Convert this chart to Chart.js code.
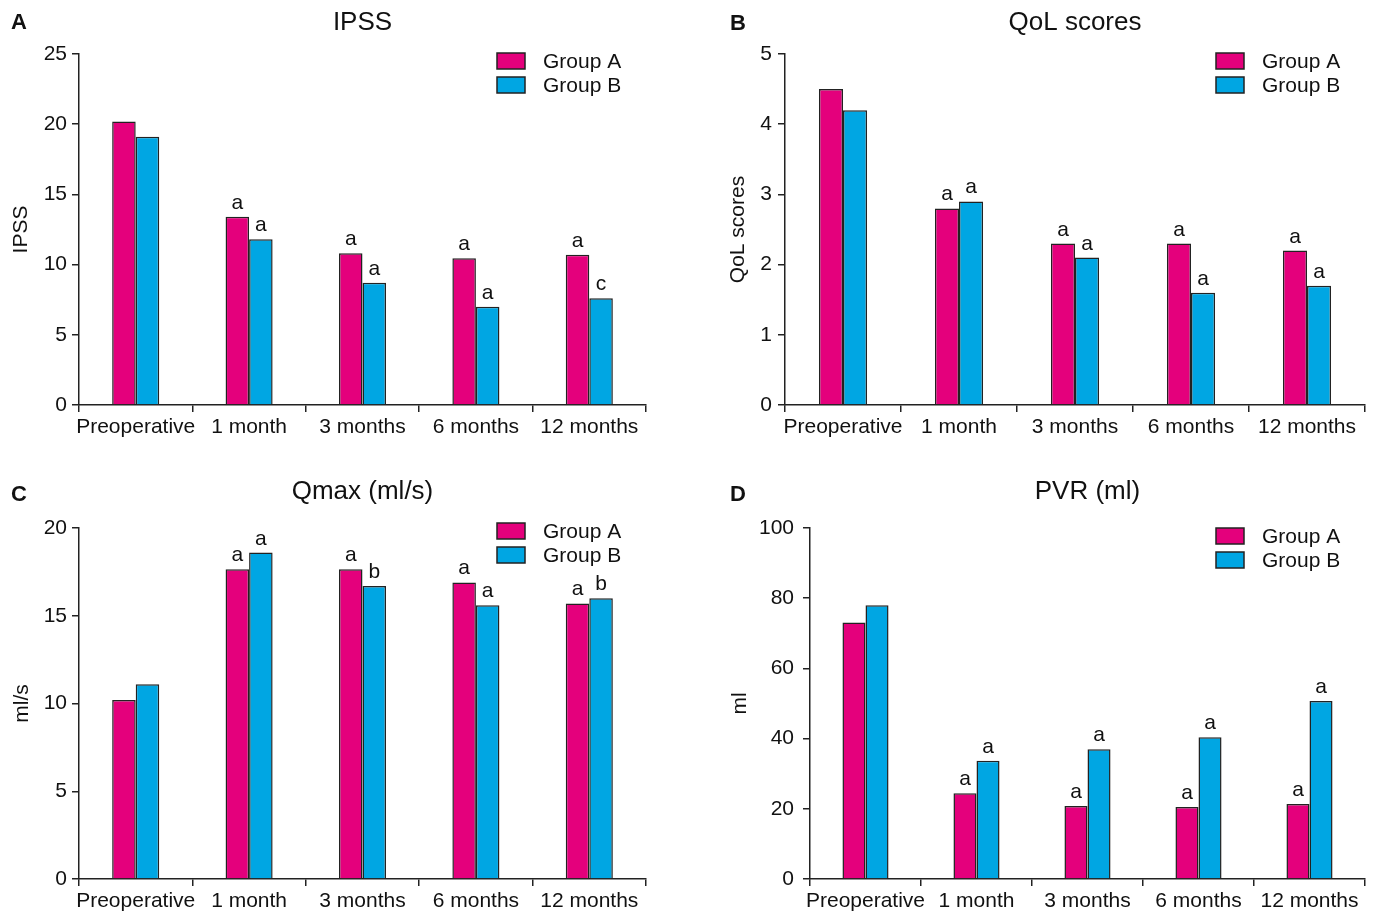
<!DOCTYPE html>
<html>
<head>
<meta charset="utf-8">
<script src="https://cdn.jsdelivr.net/npm/chart.js@4.4.0/dist/chart.umd.min.js"></script>
<style>
  body { margin: 0; background: #fff; }
  canvas { position: absolute; }
</style>
</head>
<body>
<canvas id="ipss" width="690" height="460" style="left:0;top:0"></canvas>
<canvas id="qol" width="677" height="460" style="left:700px;top:0"></canvas>
<canvas id="qmax" width="690" height="443" style="left:0;top:470px"></canvas>
<canvas id="pvr" width="677" height="443" style="left:700px;top:470px"></canvas>
<script>
'use strict';

// time points
var categories = ['Preoperative', '1 month', '3 months', '6 months', '12 months'];
var groupNames = ['Group A', 'Group B'];

// IPSS
var ipssA = [20.2, 13.4, 10.8, 10.45, 10.7];
var ipssB = [19.1, 11.8, 8.7, 7.0, 7.6];
var ipssMarksA = ['', 'a', 'a', 'a', 'a'];
var ipssMarksB = ['', 'a', 'a', 'a', 'c'];

// QoL scores
var qolA = [4.5, 2.8, 2.3, 2.3, 2.2];
var qolB = [4.2, 2.9, 2.1, 1.6, 1.7];
var qolMarksA = ['', 'a', 'a', 'a', 'a'];
var qolMarksB = ['', 'a', 'a', 'a', 'a'];

// Qmax (ml/s)
var qmaxA = [10.2, 17.65, 17.65, 16.9, 15.7];
var qmaxB = [11.1, 18.6, 16.7, 15.6, 16.0];
var qmaxMarksA = ['', 'a', 'a', 'a', 'a'];
var qmaxMarksB = ['', 'a', 'b', 'a', 'b'];

// PVR (ml)
var pvrA = [73.1, 24.4, 20.8, 20.5, 21.4];
var pvrB = [78.0, 33.7, 37.0, 40.4, 50.7];
var pvrMarksA = ['', 'a', 'a', 'a', 'a'];
var pvrMarksB = ['', 'a', 'a', 'a', 'a'];

var FONT = "'Liberation Sans', Arial, Helvetica, sans-serif";
var colorA = '#E4007C';
var colorB = '#00A6E3';
var edge = '#222222';

// letters over bars, panel letter and legend
var extras = {
    id: 'extras',
    afterDatasetsDraw: function (chart) {
        var ctx = chart.ctx;
        ctx.save();
        ctx.font = '21px ' + FONT;
        ctx.fillStyle = '#111';
        ctx.textAlign = 'center';
        ctx.textBaseline = 'alphabetic';
        chart.data.datasets.forEach(function (ds, i) {
            var meta = chart.getDatasetMeta(i);
            meta.data.forEach(function (bar, j) {
                var m = ds.marks[j];
                if (m) ctx.fillText(m, bar.x, bar.y - 8);
            });
        });
        ctx.restore();
    },
    afterDraw: function (chart) {
        var ctx = chart.ctx;
        var p = chart.options.plugins.extras;
        var area = chart.chartArea;
        ctx.save();
        ctx.fillStyle = '#111';
        ctx.font = 'bold 22px ' + FONT;
        ctx.textAlign = 'left';
        ctx.textBaseline = 'middle';
        ctx.fillText(p.letter, p.letterX, p.letterY);

        ctx.font = '21px ' + FONT;
        chart.data.datasets.forEach(function (ds, i) {
            var x = area.right - 149;
            var y = p.legendTop + i * 24;
            ctx.fillStyle = ds.backgroundColor;
            ctx.fillRect(x, y, 28, 16);
            ctx.strokeStyle = edge;
            ctx.lineWidth = 1.5;
            ctx.strokeRect(x, y, 28, 16);
            ctx.fillStyle = '#111';
            ctx.fillText(ds.label, x + 46, y + 9);
        });
        ctx.restore();
    }
};

function makePanel(id, cfg) {
    var canvas = document.getElementById(id);
    var padLeft = cfg.yTitleX - (21 * 1.2 / 2 + 4);
    var titleTop = cfg.titleY - 26 * 1.2 / 2;
    var titleBottom = cfg.area.top - 26 * 1.2 - titleTop;

    return new Chart(canvas.getContext('2d'), {
        type: 'bar',
        data: {
            labels: categories,
            datasets: [{
                label: groupNames[0],
                data: cfg.a,
                marks: cfg.marksA,
                backgroundColor: colorA,
                borderColor: edge,
                borderWidth: 1.5,
                categoryPercentage: 0.415,
                barPercentage: 1
            }, {
                label: groupNames[1],
                data: cfg.b,
                marks: cfg.marksB,
                backgroundColor: colorB,
                borderColor: edge,
                borderWidth: 1.5,
                categoryPercentage: 0.415,
                barPercentage: 1
            }]
        },
        options: {
            responsive: false,
            animation: false,
            layout: {
                padding: { left: padLeft, right: canvas.width - cfg.area.right, top: 0, bottom: 0 }
            },
            scales: {
                x: {
                    grid: { drawOnChartArea: false, color: edge, tickLength: 7, lineWidth: 1.5 },
                    border: { color: edge, width: 1.5 },
                    ticks: {
                        color: '#111', font: { family: FONT, size: 21 }, padding: 3,
                        autoSkip: false, maxRotation: 0, minRotation: 0
                    },
                    afterFit: function (s) { s.height = canvas.height - cfg.area.bottom; }
                },
                y: {
                    min: 0,
                    max: cfg.yMax,
                    grid: { drawOnChartArea: false, color: edge, tickLength: 7, lineWidth: 1.5 },
                    border: { color: edge, width: 1.5 },
                    ticks: { stepSize: cfg.yStep, color: '#111', font: { family: FONT, size: 21 }, padding: cfg.tickPad },
                    title: { display: true, text: cfg.yTitle, color: '#111', font: { family: FONT, size: 21 }, padding: 4 },
                    afterFit: function (s) { s.width = cfg.area.left - padLeft; }
                }
            },
            plugins: {
                legend: { display: false },
                tooltip: { enabled: false },
                title: {
                    display: true,
                    fullSize: false,
                    text: cfg.title,
                    color: '#111',
                    font: { family: FONT, size: 26, weight: 'normal' },
                    padding: { top: titleTop, bottom: titleBottom }
                },
                extras: {
                    letter: cfg.letter,
                    letterX: cfg.letterX,
                    letterY: cfg.letterY,
                    legendTop: cfg.legendTop
                }
            }
        },
        plugins: [extras]
    });
}

makePanel('ipss', {
    letter: 'A', letterX: 11, letterY: 23,
    title: 'IPSS', titleY: 23, yTitle: 'IPSS', yTitleX: 21,
    area: { left: 79, top: 54, right: 646, bottom: 405 },
    yMax: 25, yStep: 5, legendTop: 53, tickPad: 5,
    a: ipssA, b: ipssB, marksA: ipssMarksA, marksB: ipssMarksB
});

makePanel('qol', {
    letter: 'B', letterX: 30, letterY: 24,
    title: 'QoL scores', titleY: 23, yTitle: 'QoL scores', yTitleX: 38,
    area: { left: 85, top: 54, right: 665, bottom: 405 },
    yMax: 5, yStep: 1, legendTop: 53, tickPad: 6,
    a: qolA, b: qolB, marksA: qolMarksA, marksB: qolMarksB
});

makePanel('qmax', {
    letter: 'C', letterX: 11, letterY: 25,
    title: 'Qmax (ml/s)', titleY: 22, yTitle: 'ml/s', yTitleX: 22,
    area: { left: 79, top: 58, right: 646, bottom: 409 },
    yMax: 20, yStep: 5, legendTop: 53, tickPad: 5,
    a: qmaxA, b: qmaxB, marksA: qmaxMarksA, marksB: qmaxMarksB
});

makePanel('pvr', {
    letter: 'D', letterX: 30, letterY: 25,
    title: 'PVR (ml)', titleY: 22, yTitle: 'ml', yTitleX: 40,
    area: { left: 110, top: 58, right: 665, bottom: 409 },
    yMax: 100, yStep: 20, legendTop: 58, tickPad: 9,
    a: pvrA, b: pvrB, marksA: pvrMarksA, marksB: pvrMarksB
});
</script>
</body>
</html>
